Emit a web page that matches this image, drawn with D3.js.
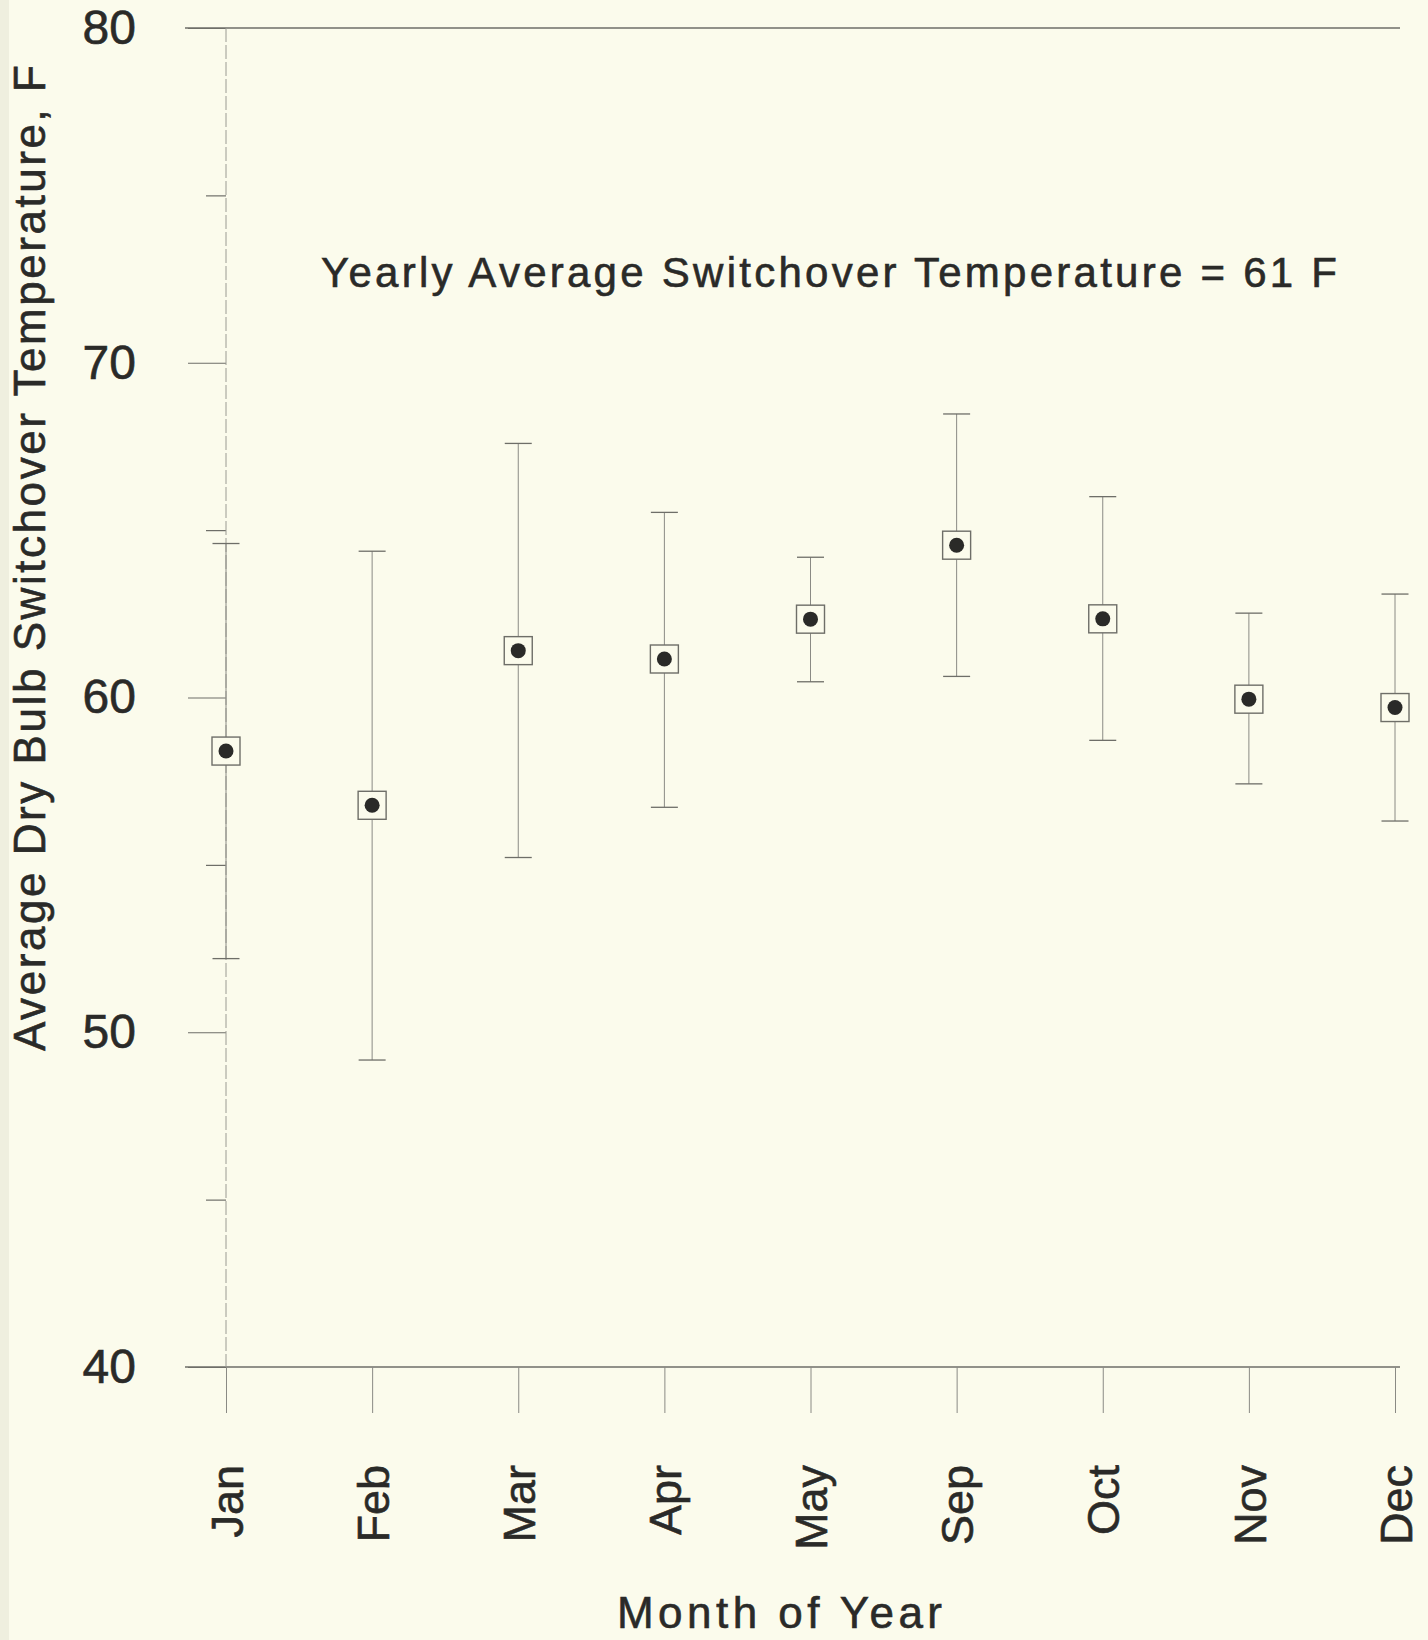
<!DOCTYPE html>
<html>
<head>
<meta charset="utf-8">
<script src="https://cdn.jsdelivr.net/npm/d3@7/dist/d3.min.js"></script>
<style>
  html, body { margin: 0; padding: 0; background: #fbfbec; }
  svg { display: block; }
  text { stroke: #2a2a28; stroke-width: 0.6px; }
</style>
</head>
<body>
<script>
// data
const months = ["Jan", "Feb", "Mar", "Apr", "May", "Sep", "Oct", "Nov", "Dec"];
const means  = [58.4, 56.78, 61.4, 61.15, 62.34, 64.55, 62.35, 59.95, 59.7];
const lows   = [52.2, 49.17, 55.22, 56.72, 60.47, 60.63, 58.72, 57.42, 56.31];
const highs  = [64.6, 64.37, 67.59, 65.53, 64.19, 68.47, 66.0, 62.52, 63.09];
const majorTicks = [40, 50, 60, 70, 80];
const minorTicks = [45, 55, 65, 75];

const width = 1428,
	height = 1640,
	font = "'Liberation Sans', Arial, Helvetica, sans-serif",
	ink = "#2a2a28",
	lineColor = "#6e6e68",
	boxSize = 28,
	capWidth = 27;

const svg = d3.select("body").append("svg")
	.attr("width", width)
	.attr("height", height);

svg.append("rect")
	.attr("width", width)
	.attr("height", height)
	.attr("fill", "#fbfbec");

// slightly darker strip at the left edge of the scan
svg.append("rect")
	.attr("width", 9)
	.attr("height", height)
	.attr("fill", "#efefdf");

const x = d3.scalePoint()
	.domain(months)
	.range([226, 1395]);

const y = d3.scaleLinear()
	.domain([40, 80])
	.range([1367, 28]);

// top and bottom frame lines
svg.selectAll(".frame")
	.data([80, 40])
	.enter().append("line")
	.attr("class", "frame")
	.attr("x1", 185)
	.attr("x2", 1400)
	.attr("y1", d => y(d))
	.attr("y2", d => y(d))
	.attr("stroke", lineColor)
	.attr("stroke-width", 1.3);

// y axis: major ticks with labels, minor ticks without
const yAxis = svg.append("g")
	.attr("transform", "translate(" + x("Jan") + ",0)")
	.call(d3.axisLeft(y).tickValues(majorTicks).tickSize(38).tickPadding(52).tickFormat(d3.format("d")));

yAxis.select(".domain").remove();
yAxis.selectAll("line").attr("stroke", lineColor).attr("stroke-width", 1.2);
yAxis.selectAll("text")
	.attr("fill", ink)
	.style("font-family", font)
	.style("font-size", "48px");

const yMinor = svg.append("g")
	.attr("transform", "translate(" + x("Jan") + ",0)")
	.call(d3.axisLeft(y).tickValues(minorTicks).tickSize(20).tickFormat(""));

yMinor.select(".domain").remove();
yMinor.selectAll("line").attr("stroke", lineColor).attr("stroke-width", 1.2);

// faint vertical axis line
svg.append("line")
	.attr("x1", x("Jan"))
	.attr("x2", x("Jan"))
	.attr("y1", y(80))
	.attr("y2", y(40))
	.attr("stroke", "#9a9a92")
	.attr("stroke-width", 1)
	.attr("stroke-dasharray", "14,3");

// x axis with rotated month labels
const xAxis = svg.append("g")
	.attr("transform", "translate(0," + y(40) + ")")
	.call(d3.axisBottom(x).tickSize(46).tickPadding(0));

xAxis.select(".domain").remove();
xAxis.selectAll("line").attr("stroke", "#8a8a84").attr("stroke-width", 1);
xAxis.selectAll("text")
	.attr("fill", ink)
	.style("font-family", font)
	.style("font-size", "45px")
	.attr("text-anchor", "end")
	.attr("transform", "translate(0,98) rotate(-90)")
	.attr("x", 0)
	.attr("y", 0)
	.attr("dy", "0.36em");

// error bars
const bars = svg.selectAll(".bar")
	.data(months)
	.enter().append("g")
	.attr("class", "bar")
	.attr("transform", d => "translate(" + x(d) + ",0)");

bars.append("line")
	.attr("y1", (d, i) => y(highs[i]))
	.attr("y2", (d, i) => y(lows[i]))
	.attr("stroke", "#8a8a84")
	.attr("stroke-width", 1);

bars.selectAll(".cap")
	.data((d, i) => [highs[i], lows[i]])
	.enter().append("line")
	.attr("class", "cap")
	.attr("x1", -capWidth / 2)
	.attr("x2", capWidth / 2)
	.attr("y1", v => y(v))
	.attr("y2", v => y(v))
	.attr("stroke", lineColor)
	.attr("stroke-width", 1.3);

bars.append("rect")
	.attr("x", -boxSize / 2)
	.attr("y", (d, i) => y(means[i]) - boxSize / 2)
	.attr("width", boxSize)
	.attr("height", boxSize)
	.attr("fill", "#fbfbec")
	.attr("stroke", lineColor)
	.attr("stroke-width", 1.4);

bars.append("circle")
	.attr("cy", (d, i) => y(means[i]))
	.attr("r", 7.5)
	.attr("fill", ink);

// texts
svg.append("text")
	.attr("x", 321)
	.attr("y", 287)
	.attr("textLength", 1016)
	.attr("lengthAdjust", "spacing")
	.attr("fill", ink)
	.style("font-family", font)
	.style("font-size", "42px")
	.text("Yearly Average Switchover Temperature = 61 F");

svg.append("text")
	.attr("x", 617)
	.attr("y", 1628)
	.attr("textLength", 325)
	.attr("lengthAdjust", "spacing")
	.attr("fill", ink)
	.style("font-family", font)
	.style("font-size", "44px")
	.text("Month of Year");

svg.append("text")
	.attr("transform", "translate(45,1051) rotate(-90)")
	.attr("textLength", 986)
	.attr("lengthAdjust", "spacing")
	.attr("fill", ink)
	.style("font-family", font)
	.style("font-size", "44px")
	.text("Average Dry Bulb Switchover Temperature, F");
</script>
</body>
</html>
